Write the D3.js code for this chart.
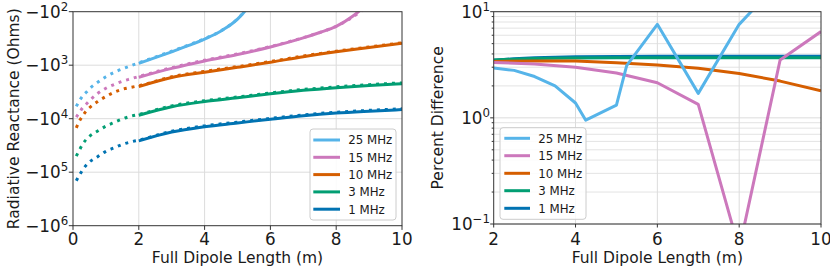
<!DOCTYPE html>
<html><head><meta charset="utf-8">
<script src="https://cdn.jsdelivr.net/npm/d3@7"></script>
<style>
body{margin:0;background:#fff}
svg{display:block}
text{font-family:"DejaVu Sans",sans-serif;fill:#1a1a1a}
</style>
</head><body>
<svg id="c" width="830" height="271"></svg>
<script>
// ---------- DATA ----------
const labels = ["25 MHz","15 MHz","10 MHz","3 MHz","1 MHz"];
const colors = ["#56B4E9","#CC78BC","#D55E00","#029E73","#0173B2"];

// Left panel: full dipole length (m) and radiative reactance (Ohms)
const xShort = [0.1,0.2,0.3,0.4,0.5,0.75,1,1.25,1.5,1.75,2];
const xAna25 = xShort.concat([2.5,3,3.5,4,4.5,5,5.25,5.5]);
const xAna15 = xShort.concat([3,4,5,6,7,7.5,8,8.5,8.75,9]);
const xAnaLow = xShort.concat([3,4,5,6,7,8,9,10]);
const xSim25 = [2,2.5,3,3.5,4,4.5,5,5.25,5.5];
const xSim15 = [2,3,4,5,6,7,7.5,8,8.5,8.75,9];
const xSimLow = [2,3,4,5,6,7,8,9,10];

const ana25 = [-5890,-4570,-3715,-3214,-2754,-2089,-1641,-1365,-1175,-1028,-902,-705,-547,-422,-318,-228,-136,-91,-45];
const sim25 = [-923,-724,-562,-432,-324,-229,-138,-93,-50];
const ana15 = [-9333,-7586,-6166,-5370,-4624,-3388,-2692,-2291,-1995,-1799,-1625,-1114,-807,-615,-448,-305,-245,-188,-126,-98,-71];
const sim15 = [-1680,-1148,-832,-631,-457,-309,-245,-188,-122,-91,-63];
const ana10 = [-14790,-10960,-8710,-7178,-6237,-4786,-3846,-3199,-2818,-2600,-2427,-1641,-1303,-1062,-855,-673,-548,-457,-382];
const sim10 = [-2512,-1698,-1349,-1096,-881,-692,-562,-468,-389];
const ana3 = [-50120,-38020,-29510,-24550,-21380,-16980,-13800,-11750,-10120,-9016,-8318,-5754,-4613,-3926,-3304,-2844,-2535,-2312,-2133];
const sim3 = [-8610,-5957,-4786,-4074,-3428,-2951,-2630,-2399,-2213];
const ana1 = [-144500,-112200,-89130,-74130,-64570,-51290,-40740,-35080,-30200,-27230,-25120,-17140,-13610,-11590,-9863,-8492,-7568,-6982,-6516];
const sim1 = [-26000,-17780,-14130,-12020,-10230,-8810,-7852,-7244,-6761];

// Right panel: percent difference
const xPd25 = [2,2.5,3,3.5,4,4.25,5,5.25,6,7,8,9];
const pd25 = [2.95,2.8,2.45,2.0,1.38,0.95,1.32,3.1,7.6,1.7,7.6,19.5];
const xPd15 = [2,3,4,5,6,7,8,9,10];
const pd15 = [3.33,3.22,3.0,2.65,2.14,1.34,0.058,3.5,6.5];
const xPd10 = [2,3,4,5,6,7,8,9,10];
const pd10 = [3.4,3.44,3.43,3.3,3.15,2.93,2.62,2.22,1.8];
const xPd3 = [2,2.5,3,3.5,4,5,6,7,8,9,10];
const pd3 = [3.5,3.57,3.62,3.65,3.67,3.68,3.68,3.68,3.68,3.68,3.68];
const xPd1 = [2,2.5,3,3.5,4,5,6,7,8,9,10];
const pd1 = [3.48,3.6,3.68,3.73,3.76,3.79,3.8,3.8,3.81,3.81,3.81];

// ticks
const leftXTicks = [0,2,4,6,8,10];
const leftYTicks = [-1e2,-1e3,-1e4,-1e5,-1e6];
const rightXTicks = [2,4,6,8,10];
const rightYTicks = [0.1,1,10];
const rightYMinor = [0.2,0.3,0.4,0.5,0.6,0.7,0.8,0.9,2,3,4,5,6,7,8,9];
const xLabel = "Full Dipole Length (m)";
const yLabelL = "Radiative Reactance (Ohms)";
const yLabelR = "Percent Difference";

// ---------- DRAW ----------
const svg = d3.select("#c");
const TICK_FS = 16.8, LABEL_FS = 15.5, LEG_FS = 11.8, SUP_FS = 11.8;
const GRID = "#dcdcdc", SPINE = "#333";
const zip = (xs, ys) => xs.map((x,i)=>[x, ys[i]]);

function supLabel(sel, base, exp){
  sel.append("tspan").text(base);
  sel.append("tspan").attr("dy",-7.3).attr("font-size",SUP_FS).text(exp);
}

// ----- left panel -----
const L = {x0:73, x1:402, y0:11.7, y1:225.7};
const xL = d3.scaleLinear().domain([0,10]).range([L.x0,L.x1]);
const yL = d3.scaleLog().domain([-1e2,-1e6]).range([L.y0,L.y1]);
const gL = svg.append("g");
svg.append("clipPath").attr("id","clipL").append("rect")
  .attr("x",L.x0).attr("y",L.y0).attr("width",L.x1-L.x0).attr("height",L.y1-L.y0);

leftXTicks.slice(1,-1).forEach(t=>gL.append("line").attr("x1",xL(t)).attr("x2",xL(t))
  .attr("y1",L.y0).attr("y2",L.y1).attr("stroke",GRID).attr("stroke-width",1));
leftYTicks.slice(1,-1).forEach(t=>gL.append("line").attr("y1",yL(t)).attr("y2",yL(t))
  .attr("x1",L.x0).attr("x2",L.x1).attr("stroke",GRID).attr("stroke-width",1));

const lineL = d3.line().x(d=>xL(d[0])).y(d=>yL(d[1])).curve(d3.curveMonotoneX);
const leftSeries = [
  {ana:zip(xAna25,ana25), sim:zip(xSim25,sim25)},
  {ana:zip(xAna15,ana15), sim:zip(xSim15,sim15)},
  {ana:zip(xAnaLow,ana10), sim:zip(xSimLow,sim10)},
  {ana:zip(xAnaLow,ana3), sim:zip(xSimLow,sim3)},
  {ana:zip(xAnaLow,ana1), sim:zip(xSimLow,sim1)}
];
const plotL = gL.append("g").attr("clip-path","url(#clipL)");
[4,3,2,1,0].forEach(i=>{
  plotL.append("path").attr("d",lineL(leftSeries[i].sim)).attr("fill","none")
    .attr("stroke",colors[i]).attr("stroke-width",3);
  plotL.append("path").attr("d",lineL(leftSeries[i].ana)).attr("fill","none")
    .attr("stroke",colors[i]).attr("stroke-width",3).attr("stroke-dasharray","3,4.95");
});

// frame & ticks
gL.append("rect").attr("x",L.x0).attr("y",L.y0).attr("width",L.x1-L.x0).attr("height",L.y1-L.y0)
  .attr("fill","none").attr("stroke",SPINE).attr("stroke-width",1);
leftXTicks.forEach(t=>{
  gL.append("line").attr("x1",xL(t)).attr("x2",xL(t)).attr("y1",L.y1).attr("y2",L.y1+4.2).attr("stroke",SPINE);
  gL.append("text").attr("x",xL(t)).attr("y",245).attr("text-anchor","middle").attr("font-size",TICK_FS).text(t);
});
leftYTicks.forEach(t=>{
  gL.append("line").attr("x1",L.x0-4.2).attr("x2",L.x0).attr("y1",yL(t)).attr("y2",yL(t)).attr("stroke",SPINE);
  const e = Math.round(Math.log10(-t));
  gL.append("text").attr("x",L.x0-4.8).attr("y",yL(t)+6.2).attr("text-anchor","end")
    .attr("font-size",TICK_FS).call(s=>supLabel(s,"\u221210",String(e)));
});
gL.append("text").attr("x",(L.x0+L.x1)/2).attr("y",263).attr("text-anchor","middle")
  .attr("font-size",LABEL_FS).text(xLabel);
gL.append("text").attr("transform",`translate(19,${(L.y0+L.y1)/2}) rotate(-90)`)
  .attr("text-anchor","middle").attr("font-size",LABEL_FS).text(yLabelL);

function legend(g, x, y, w, h, lineX0, lineX1, textX, rowY){
  g.append("rect").attr("x",x).attr("y",y).attr("width",w).attr("height",h).attr("rx",3)
    .attr("fill","#fff").attr("fill-opacity",0.85).attr("stroke","#cccccc").attr("stroke-width",1);
  labels.forEach((lab,i)=>{
    const yy = rowY[i];
    g.append("line").attr("x1",lineX0).attr("x2",lineX1).attr("y1",yy).attr("y2",yy)
      .attr("stroke",colors[i]).attr("stroke-width",3);
    g.append("text").attr("x",textX).attr("y",yy+4.3).attr("font-size",LEG_FS).text(lab);
  });
}
legend(gL, 310, 129, 86, 91, 313.3, 340, 348.3, [140,157.3,174.6,191.9,209.2]);

// ----- right panel -----
const R = {x0:493.7, x1:821, y0:11.7, y1:224};
const xR = d3.scaleLinear().domain([2,10]).range([R.x0,R.x1]);
const yR = d3.scaleLog().domain([0.1,10]).range([R.y1,R.y0]);
const gR = svg.append("g");
svg.append("clipPath").attr("id","clipR").append("rect")
  .attr("x",R.x0).attr("y",R.y0).attr("width",R.x1-R.x0).attr("height",R.y1-R.y0);

rightYMinor.forEach(t=>gR.append("line").attr("y1",yR(t)).attr("y2",yR(t))
  .attr("x1",R.x0).attr("x2",R.x1).attr("stroke","#e3e3e3").attr("stroke-width",1));
rightYTicks.forEach(t=>gR.append("line").attr("y1",yR(t)).attr("y2",yR(t))
  .attr("x1",R.x0).attr("x2",R.x1).attr("stroke",GRID).attr("stroke-width",1));
rightXTicks.slice(1,-1).forEach(t=>gR.append("line").attr("x1",xR(t)).attr("x2",xR(t))
  .attr("y1",R.y0).attr("y2",R.y1).attr("stroke",GRID).attr("stroke-width",1));

const lineR = d3.line().x(d=>xR(d[0])).y(d=>yR(d[1]));
const rightSeries = [zip(xPd25,pd25), zip(xPd15,pd15), zip(xPd10,pd10), zip(xPd3,pd3), zip(xPd1,pd1)];
const plotR = gR.append("g").attr("clip-path","url(#clipR)");
[4,3,2,1,0].forEach(i=>{
  plotR.append("path").attr("d",lineR(rightSeries[i])).attr("fill","none")
    .attr("stroke",colors[i]).attr("stroke-width",3).attr("stroke-linejoin","round");
});

gR.append("rect").attr("x",R.x0).attr("y",R.y0).attr("width",R.x1-R.x0).attr("height",R.y1-R.y0)
  .attr("fill","none").attr("stroke",SPINE).attr("stroke-width",1);
rightXTicks.forEach(t=>{
  gR.append("line").attr("x1",xR(t)).attr("x2",xR(t)).attr("y1",R.y1).attr("y2",R.y1+3.5).attr("stroke",SPINE);
  gR.append("text").attr("x",xR(t)).attr("y",245).attr("text-anchor","middle").attr("font-size",TICK_FS).text(t);
});
rightYMinor.forEach(t=>gR.append("line").attr("x1",R.x0-2).attr("x2",R.x0).attr("y1",yR(t)).attr("y2",yR(t)).attr("stroke",SPINE));
rightYTicks.forEach(t=>{
  gR.append("line").attr("x1",R.x0-3.5).attr("x2",R.x0).attr("y1",yR(t)).attr("y2",yR(t)).attr("stroke",SPINE);
  const e = Math.round(Math.log10(t));
  gR.append("text").attr("x",R.x0-3.7).attr("y",yR(t)+6.2).attr("text-anchor","end")
    .attr("font-size",TICK_FS).call(s=>supLabel(s,"10",e<0?"\u2212"+(-e):String(e)));
});
gR.append("text").attr("x",(R.x0+R.x1)/2).attr("y",263).attr("text-anchor","middle")
  .attr("font-size",LABEL_FS).text(xLabel);
gR.append("text").attr("transform",`translate(443,${(R.y0+R.y1)/2}) rotate(-90)`)
  .attr("text-anchor","middle").attr("font-size",LABEL_FS).text(yLabelR);

legend(gR, 500, 127.7, 86, 91.6, 504.3, 530, 538.3, [138.3,155.7,173.3,190.7,208.3]);
</script>
</body></html>
